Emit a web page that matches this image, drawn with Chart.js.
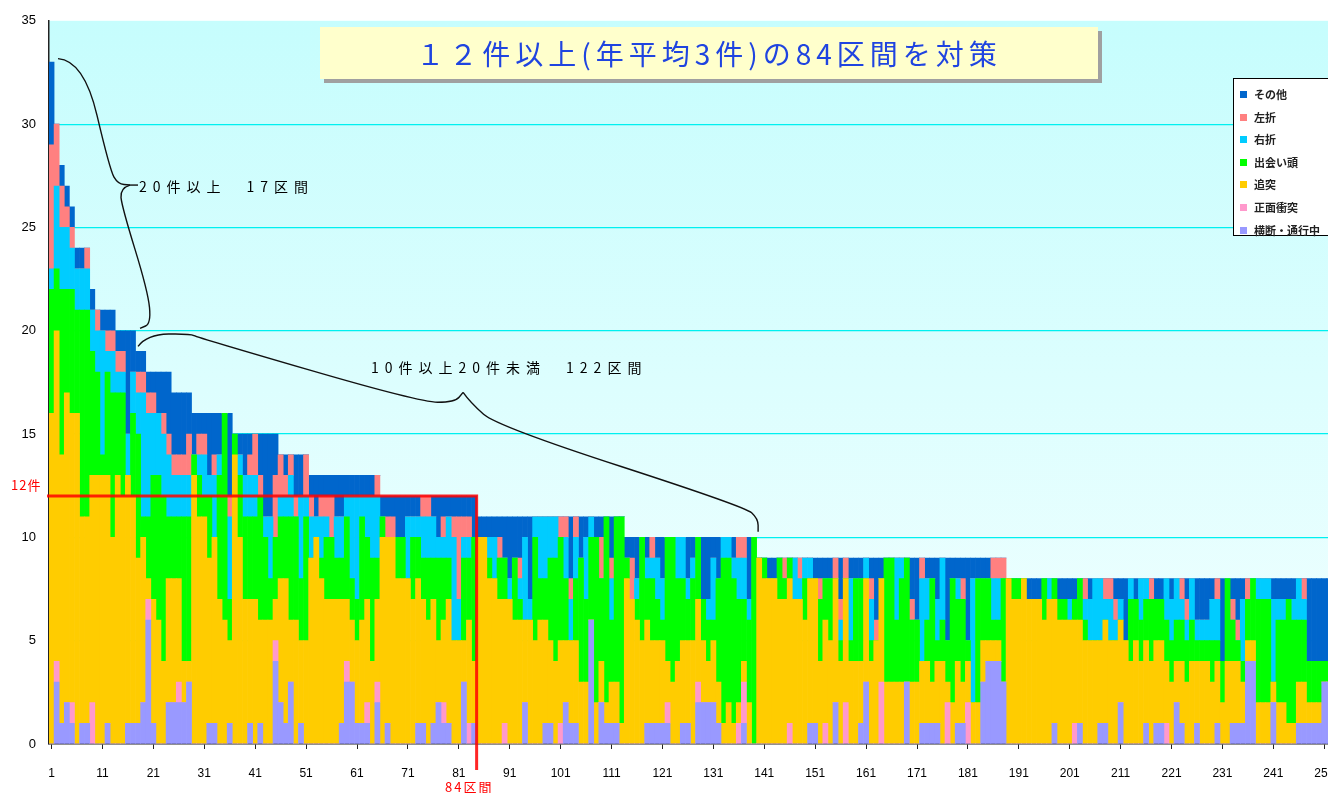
<!DOCTYPE html>
<html lang="ja">
<head>
<meta charset="utf-8">
<title>区間別事故件数</title>
<script src="https://cdn.jsdelivr.net/npm/chart.js"></script>
<style>
  html, body { margin: 0; padding: 0; background: #fff; overflow: hidden; width: 1328px; height: 793px; }
  #wrap { position: relative; width: 1337px; height: 793px; }
  #chart { display: block; }
  .jp { font-family: "Noto Sans CJK JP", "Noto Sans", sans-serif; position: absolute; white-space: nowrap; }
  #title {
    left: 320px; top: 27px; width: 778px; height: 52px;
    background: #ffffcc; box-shadow: 4px 4px 0 #a0a0a0;
    color: #1f44e0; font-size: 28px; line-height: 52px; text-align: center; letter-spacing: 5px;
  }
  #note1 { left: 139px; top: 176px; font-size: 14px; letter-spacing: 6px; color: #000; }
  #note2 { left: 371px; top: 357px; font-size: 14px; letter-spacing: 6px; color: #000; }
  #lbl12 { left: 11px; top: 475px; font-size: 13px; letter-spacing: 1px; color: #ff0000; }
  #lbl84 { left: 445px; top: 777px; font-size: 13px; letter-spacing: 2px; color: #ff0000; }
  #legend {
    left: 1233px; top: 78px; width: 120px; height: 158px;
    background: #fff; border: 1px solid #000; box-sizing: border-box; padding-top: 4px;
  }
  #legend div { position: relative; height: 22.6px; font-size: 11px; line-height: 22px; padding-left: 20px; font-weight: bold; color: #222; }
  #legend span { position: absolute; left: 6px; top: 8px; width: 7px; height: 7px; }
</style>
</head>
<body>
<div id="wrap">
  <canvas id="chart" width="1337" height="793"></canvas>
  <div id="title" class="jp">１２件以上(年平均3件)の84区間を対策</div>
  <div id="note1" class="jp">20件以上　17区間</div>
  <div id="note2" class="jp">10件以上20件未満　122区間</div>
  <div id="lbl12" class="jp">12件</div>
  <div id="lbl84" class="jp">84区間</div>
  <div id="legend" class="jp"></div>
</div>
<script>
// 区間番号 1..253（事故件数の多い順）
const sections = [];
for (let i = 1; i <= 253; i++) sections.push(String(i));

// 事故類型別件数（区間ごと）
const oudan = [
  0,3,1,2,1,0,1,1,0,0, 0,1,0,0,0,1,1,1,2,6, 1,0,0,2,2,2,2,3,0,0, 0,1,1,0,0,1,0,0,0,1,
  0,1,0,0,4,2,1,3,0,1, 0,0,0,0,0,0,0,1,3,3, 1,1,1,0,2,0,1,0,0,0, 0,0,1,1,0,1,2,1,1,0,
  0,3,0,1,0,0,0,0,0,0, 0,0,0,2,0,0,0,1,1,0, 0,2,1,1,0,0,6,0,2,1, 1,1,0,0,0,0,0,1,1,1,
  1,1,0,0,1,1,0,2,2,2, 2,1,0,0,0,0,1,0,0,0, 0,0,0,0,0,0,0,0,0,1, 1,0,0,0,2,0,0,0,0,1,
  3,0,0,0,0,0,0,0,3,0, 0,1,1,1,1,0,0,0,1,1, 0,0,0,3,4,4,4,3,0,0, 0,0,0,0,0,0,0,1,0,0,
  0,0,1,0,0,0,1,1,0,0, 2,0,0,0,0,1,0,1,1,0, 0,2,1,0,0,1,0,0,0,1, 0,0,1,1,1,4,4,0,0,0,
  2,0,0,0,0,1,1,1,1,1, 3,3,3
];
const shomen = [
  0,1,0,0,1,0,0,0,2,0, 0,0,0,0,0,0,0,0,0,1, 0,0,0,0,0,1,0,0,0,0, 0,0,0,0,0,0,0,0,0,0,
  0,0,0,0,1,0,0,0,0,0, 0,0,0,0,0,0,0,0,1,0, 0,0,1,0,1,0,0,0,0,0, 0,0,0,0,0,0,0,1,0,0,
  0,0,1,0,0,0,0,0,0,1, 0,0,0,0,0,0,0,0,0,0, 1,0,0,0,0,0,0,0,0,0, 0,0,0,0,0,0,0,0,0,0,
  0,1,0,0,0,0,0,1,0,0, 0,0,0,0,0,1,2,0,0,0, 0,0,0,0,0,1,0,0,0,0, 0,0,1,0,0,0,2,0,0,0,
  0,0,0,3,0,0,0,0,0,0, 0,0,0,0,0,0,2,0,0,0, 2,0,0,0,0,0,0,0,0,0, 0,0,0,0,0,0,0,0,0,0,
  0,1,0,0,0,0,0,0,0,0, 0,0,0,0,0,0,0,0,0,1, 0,0,0,0,0,0,0,0,0,0, 0,0,0,0,0,0,0,0,0,0,
  0,0,0,0,0,0,0,0,0,0, 0,0,0
];
const tsuitotsu = [
  16,16,13,15,14,16,10,10,11,13, 13,12,10,13,12,12,11,8,8,1, 6,6,4,6,6,5,2,1,13,11, 11,8,9,7,6,4,14,10,7,6,
  7,5,6,6,2,6,7,3,6,4, 5,9,10,8,7,7,7,6,3,3, 4,5,5,4,4,10,9,10,8,8, 8,7,7,6,6,6,3,4,6,5,
  5,2,5,3,10,10,8,8,7,6, 7,6,6,4,6,5,6,5,4,4, 4,3,4,4,3,3,0,2,2,1, 2,2,1,8,7,6,5,5,4,4,
  4,2,3,4,4,4,5,4,3,2, 3,2,1,2,1,1,1,2,0,9, 8,8,8,7,7,7,7,7,6,7, 7,4,5,5,6,4,6,4,4,3,
  5,4,5,5,3,3,3,3,0,3, 3,3,3,2,3,4,1,2,3,2, 2,2,2,2,1,1,1,0,8,7, 7,8,7,7,7,6,7,6,6,6,
  6,5,5,5,5,5,4,5,5,5, 4,5,4,5,4,4,4,4,4,3, 3,2,3,3,4,3,4,4,3,3, 2,4,3,3,2,1,1,2,2,2,
  1,2,2,1,1,2,2,1,1,1, 0,0,0
];
const deaigashira = [
  6,3,8,5,6,5,10,10,6,5, 1,5,7,4,5,0,4,6,1,3, 6,7,8,3,3,3,7,7,1,2, 1,3,0,6,10,2,1,3,4,4,
  4,6,4,2,3,3,3,5,5,3, 6,0,0,1,3,3,2,2,4,2, 2,5,3,5,2,1,0,0,2,2, 0,3,2,2,3,2,4,3,2,0,
  0,4,3,6,0,0,1,0,2,2, 0,3,1,0,0,5,2,2,4,5, 5,3,0,3,6,4,4,8,4,9, 3,8,10,1,0,1,5,2,3,2,
  1,6,7,4,3,2,3,3,2,2, 1,5,8,7,7,5,3,4,10,0, 1,0,0,2,1,1,0,0,2,0, 0,3,2,3,0,1,0,1,4,4,
  0,1,0,0,6,6,3,5,6,3, 3,0,2,5,1,2,2,6,3,4, 1,0,6,3,3,1,1,5,0,1, 1,0,0,0,0,2,0,1,1,1,
  0,1,2,1,0,0,0,0,0,0, 0,0,3,2,2,2,3,2,2,2, 2,2,2,2,2,1,1,1,2,1, 2,4,2,1,1,2,3,5,5,5,
  0,4,4,6,5,3,3,2,2,2, 1,1,1
];
const usetsu = [
  1,4,3,3,2,2,2,2,2,2, 6,1,2,1,1,2,2,2,6,5, 3,3,3,3,2,2,2,2,0,1, 2,1,3,1,0,4,0,1,2,2,
  2,0,1,3,0,1,1,2,0,4, 1,2,1,2,1,0,2,2,1,4, 5,1,2,3,3,0,0,0,0,0, 3,1,1,2,2,2,1,1,2,5,
  2,1,1,0,0,0,1,2,0,0, 1,0,1,4,1,1,3,3,2,2, 0,2,2,2,0,3,1,0,0,0, 2,0,0,0,0,1,0,1,1,2,
  2,0,0,2,2,1,1,0,0,1, 3,0,1,1,1,2,2,1,0,0, 0,0,0,0,0,0,2,1,1,1, 0,0,0,0,0,1,0,3,0,0,
  1,2,0,0,0,0,3,1,0,0, 0,4,2,0,2,3,0,0,1,0, 0,6,0,0,0,2,2,0,0,0, 0,0,0,0,0,0,1,0,0,0,
  1,0,0,1,2,3,3,1,2,1, 1,0,1,0,2,1,0,0,0,2, 2,2,1,1,2,1,1,1,2,2, 0,0,0,0,3,0,0,1,1,1,
  4,1,1,0,1,2,1,0,0,0, 0,0,0
];
const sasetsu = [
  6,3,2,1,1,0,0,1,0,1, 0,1,1,1,1,0,0,1,1,1, 1,0,1,1,1,1,1,2,0,1, 1,0,1,0,0,1,0,0,0,1,
  2,1,0,0,3,2,1,1,1,0, 2,1,0,1,1,2,0,0,0,0, 0,0,0,0,1,0,1,1,0,0, 0,0,0,1,1,0,0,1,0,1,
  4,1,1,0,0,0,0,0,1,0, 0,0,1,0,0,0,0,0,0,0, 1,1,1,1,0,0,0,0,2,0, 1,0,0,0,2,0,0,0,1,0,
  0,0,0,0,0,0,0,0,0,0, 0,0,0,0,0,1,1,0,0,0, 0,0,0,0,1,0,0,1,0,0, 0,1,0,0,1,1,1,0,0,0,
  0,1,1,0,0,0,0,0,0,1, 0,1,0,0,0,0,0,0,0,1, 0,0,0,0,0,1,1,1,0,0, 0,0,0,0,0,0,0,0,0,0,
  0,0,0,1,0,0,0,1,1,1, 0,0,0,0,0,0,1,0,0,0, 0,0,1,1,0,0,0,0,0,1, 0,0,1,1,0,1,0,0,0,0,
  0,0,0,0,0,0,1,0,0,0, 0,0,0
];
const sonota = [
  4,0,1,1,1,1,1,0,1,0, 1,1,1,1,1,5,2,1,1,1, 1,2,2,3,3,3,3,2,2,1, 1,3,2,2,0,4,0,1,2,1,
  0,2,4,4,2,0,1,0,2,2, 0,1,2,1,1,1,2,2,1,1, 1,1,1,1,0,1,1,1,2,2, 1,1,1,0,0,1,2,1,1,1,
  1,1,1,2,1,1,1,1,1,2, 3,2,2,1,4,0,0,0,0,0, 0,0,3,0,2,1,0,1,1,0, 2,0,0,1,1,2,0,1,0,1,
  2,0,0,0,0,2,1,0,3,3, 1,2,0,0,1,0,0,3,0,0, 0,1,1,0,0,0,0,0,0,0, 1,1,1,1,0,2,0,1,1,1,
  0,1,3,1,0,0,0,0,0,2, 3,0,1,1,2,0,4,1,1,1, 4,1,1,1,1,0,0,0,0,0, 0,0,1,1,1,0,0,0,1,1,
  1,1,0,0,1,0,0,0,0,1, 1,3,0,1,0,0,0,1,1,0, 1,0,0,1,0,2,2,2,1,0, 4,0,1,2,1,0,0,0,0,0,
  1,1,1,1,1,0,0,4,4,4, 4,4,4
];

// 積み上げ順（下から）
const seriesNames = ['横断・通行中', '正面衝突', '追突', '出会い頭', '右折', '左折', 'その他'];
const seriesColors = ['#9999ff', '#ff99cc', '#ffcc00', '#00ff00', '#00ccff', '#ff8080', '#0066cc'];
const seriesData = [oudan, shomen, tsuitotsu, deaigashira, usetsu, sasetsu, sonota];

// 注記の括弧（[区間index, 件数]）
const brace20 = [
  [[1.27, 33.17], [6.38, 33.08], [11.48, 27.77], [13.06, 27.10], [15.41, 27.05]],
  [[15.41, 27.05], [13.45, 26.90], [13.84, 25.99], [18.95, 21.89], [19.54, 20.35], [17.38, 20.11]]
];
const brace10 = [
  [[16.99, 19.24], [18.75, 19.82], [27.20, 19.86], [28.77, 19.67], [72.39, 16.54], [79.26, 16.54], [80.84, 17.02]],
  [[80.84, 17.02], [82.21, 16.54], [87.51, 15.38], [136.24, 11.48], [138.79, 10.90], [138.79, 10.27]]
];
const targetCount = 12;
const targetSections = 84;

const bgPlugin = {
  id: 'plotBg',
  beforeDraw(chart) {
    const {ctx, chartArea: a} = chart;
    const g = ctx.createLinearGradient(0, a.top, 0, a.bottom);
    g.addColorStop(0, '#c6fdfd');
    g.addColorStop(1, '#f3ffff');
    ctx.save();
    ctx.fillStyle = g;
    ctx.fillRect(a.left, a.top, a.right - a.left, a.bottom - a.top);
    ctx.restore();
  }
};

function smoothPath(ctx, pts) {
  ctx.moveTo(pts[0][0], pts[0][1]);
  for (let i = 1; i < pts.length - 1; i++) {
    const mx = (pts[i][0] + pts[i + 1][0]) / 2;
    const my = (pts[i][1] + pts[i + 1][1]) / 2;
    ctx.quadraticCurveTo(pts[i][0], pts[i][1], mx, my);
  }
  const last = pts[pts.length - 1];
  ctx.lineTo(last[0], last[1]);
}

const notePlugin = {
  id: 'notes',
  afterDatasetsDraw(chart) {
    const {ctx, scales: {x, y}} = chart;
    const toPx = p => [x.getPixelForValue(p[0]), y.getPixelForValue(p[1])];

    // 12件 / 84区間 の赤線
    const ly = y.getPixelForValue(targetCount);
    const lx = x.getPixelForValue(targetSections - 0.5);
    ctx.save();
    ctx.strokeStyle = 'rgba(255,0,0,0.85)';
    ctx.lineWidth = 3;
    ctx.beginPath();
    ctx.moveTo(x.left - 2, ly);
    ctx.lineTo(lx, ly);
    ctx.lineTo(lx, y.bottom + 26);
    ctx.stroke();

    // 括弧
    ctx.strokeStyle = '#111';
    ctx.lineWidth = 1.4;
    [brace20, brace10].forEach(b => {
      b.forEach(part => {
        ctx.beginPath();
        smoothPath(ctx, part.map(toPx));
        ctx.stroke();
      });
    });
    const tip = toPx(brace20[0][4]);
    ctx.beginPath();
    ctx.moveTo(tip[0], tip[1]);
    ctx.lineTo(tip[0] + 8, tip[1]);
    ctx.stroke();
    ctx.restore();
  }
};

const datasets = seriesNames.map((name, i) => ({
  label: name,
  data: seriesData[i],
  backgroundColor: seriesColors[i],
  borderWidth: 0,
  barPercentage: 1,
  categoryPercentage: 1
}));

new Chart(document.getElementById('chart'), {
  type: 'bar',
  data: { labels: sections, datasets: datasets },
  options: {
    responsive: false,
    animation: false,
    layout: { padding: { top: 18, right: 0, bottom: 0, left: 0 } },
    plugins: {
      legend: { display: false },
      tooltip: { enabled: false }
    },
    scales: {
      x: {
        stacked: true,
        offset: true,
        afterFit: s => { s.height = 49; s.paddingLeft = 0; s.paddingRight = 0; },
        border: { color: '#222', width: 1.5 },
        grid: {
          display: true,
          drawOnChartArea: false,
          offset: false,
          tickLength: 5,
          color: c => (c.index % 10 === 0 ? '#222' : 'rgba(0,0,0,0)')
        },
        ticks: {
          autoSkip: false,
          maxRotation: 0,
          padding: 17,
          color: '#000',
          font: { family: 'Liberation Sans', size: 12 },
          callback: function (val, idx) { return idx % 10 === 0 ? this.getLabelForValue(val) : ''; }
        }
      },
      y: {
        stacked: true,
        min: 0,
        max: 35,
        afterFit: s => { s.width = 49; },
        border: { color: '#222', width: 1.5 },
        grid: {
          drawTicks: false,
          lineWidth: 1.2,
          color: c => (c.tick.value === 0 || c.tick.value === 35 ? 'rgba(0,0,0,0)' : '#00f0f0')
        },
        ticks: {
          stepSize: 5,
          padding: 13,
          color: '#000',
          font: { family: 'Liberation Sans', size: 13 }
        }
      }
    }
  },
  plugins: [bgPlugin, notePlugin]
});

// 凡例（上から その他 → 横断・通行中）
const legendBox = document.getElementById('legend');
for (let i = seriesNames.length - 1; i >= 0; i--) {
  const row = document.createElement('div');
  const sw = document.createElement('span');
  sw.style.background = seriesColors[i];
  row.appendChild(sw);
  row.appendChild(document.createTextNode(seriesNames[i]));
  legendBox.appendChild(row);
}
</script>
</body>
</html>
